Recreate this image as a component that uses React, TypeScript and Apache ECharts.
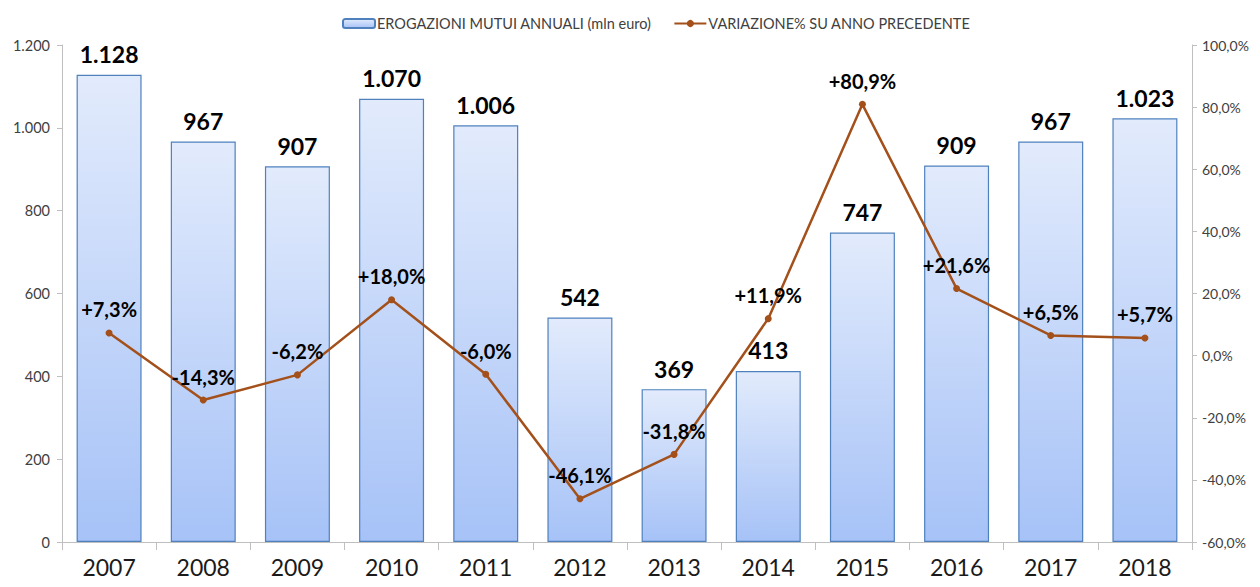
import React, { useEffect, useRef } from "react";
import * as echarts from "echarts";

const categories = ["2007", "2008", "2009", "2010", "2011", "2012", "2013", "2014", "2015", "2016", "2017", "2018"];
const erogazioni = [1128, 967, 907, 1070, 1006, 542, 369, 413, 747, 909, 967, 1023];
const variazione = [7.3, -14.3, -6.2, 18.0, -6.0, -46.1, -31.8, 11.9, 80.9, 21.6, 6.5, 5.7];

const barName = "EROGAZIONI MUTUI ANNUALI (mln euro)";
const lineName = "VARIAZIONE% SU ANNO PRECEDENTE";
const FONT = "Lato, 'Open Sans', sans-serif";

const fmtThousands = (v: number) => String(Math.round(v)).replace(/\B(?=(\d{3})+(?!\d))/g, ".");
const fmtPct = (v: number) => v.toFixed(1).replace(".", ",") + "%";
const fmtSigned = (v: number) => (v > 0 ? "+" : "") + fmtPct(v);

export default function App() {
  const ref = useRef<HTMLDivElement>(null);
  useEffect(() => {
    if (!ref.current) return;
    const chart = echarts.init(ref.current, null, { renderer: "svg" });
    const axisLine = { show: true, lineStyle: { color: "#bfbfbf", width: 1 } };
    chart.setOption({
      animation: false,
      backgroundColor: "#ffffff",
      legend: {
        top: 11,
        left: 337,
        itemGap: 22,
        itemWidth: 32,
        itemHeight: 9,
        textStyle: { fontFamily: FONT, fontSize: 14.5, color: "#404040", padding: [0, 0, 0, -3] },
        data: [{ name: barName }, { name: lineName }],
      },
      grid: { left: 62, right: 68, top: 45, bottom: 45, containLabel: false },
      xAxis: {
        type: "category",
        data: categories,
        boundaryGap: true,
        axisLine,
        axisTick: { show: true, length: 8, lineStyle: { color: "#bfbfbf" } },
        axisLabel: { fontFamily: FONT, fontSize: 23, color: "#1a1a1a", margin: 13 },
      },
      yAxis: [
        {
          type: "value",
          min: 0,
          max: 1200,
          interval: 200,
          splitLine: { show: false },
          axisLine,
          axisTick: { show: true, length: 5, lineStyle: { color: "#bfbfbf" } },
          axisLabel: { fontFamily: FONT, fontSize: 14.5, color: "#404040", margin: 12, formatter: (v: number) => fmtThousands(v) },
        },
        {
          type: "value",
          min: -60,
          max: 100,
          interval: 20,
          position: "right",
          splitLine: { show: false },
          axisLine,
          axisTick: { show: true, length: 5, lineStyle: { color: "#bfbfbf" } },
          axisLabel: { fontFamily: FONT, fontSize: 14, color: "#404040", margin: 10, formatter: (v: number) => fmtPct(v) },
        },
      ],
      series: [
        {
          name: barName,
          type: "bar",
          yAxisIndex: 0,
          data: erogazioni,
          barWidth: "69%",
          itemStyle: {
            color: new echarts.graphic.LinearGradient(0, 0, 0, 1, [
              { offset: 0, color: "#e2ebfc" },
              { offset: 1, color: "#a6c2f7" },
            ]),
            borderColor: "#4f81bd",
            borderWidth: 1.2,
          },
          label: {
            show: true,
            position: "top",
            distance: 9,
            fontFamily: FONT,
            fontSize: 23,
            fontWeight: "bold",
            color: "#000000",
            formatter: (p: any) => fmtThousands(p.value),
          },
        },
        {
          name: lineName,
          type: "line",
          yAxisIndex: 1,
          data: variazione,
          symbol: "circle",
          symbolSize: 7,
          itemStyle: { color: "#a3501b" },
          lineStyle: { color: "#a3501b", width: 2.5 },
          label: {
            show: true,
            position: "top",
            distance: 10,
            fontFamily: FONT,
            fontSize: 20,
            fontWeight: "bold",
            color: "#000000",
            formatter: (p: any) => fmtSigned(p.value),
          },
          z: 5,
        },
      ],
    });
    return () => chart.dispose();
  }, []);
  return <div ref={ref} style={{ position: "absolute", left: 0, top: 0, width: 1260, height: 587 }} />;
}
